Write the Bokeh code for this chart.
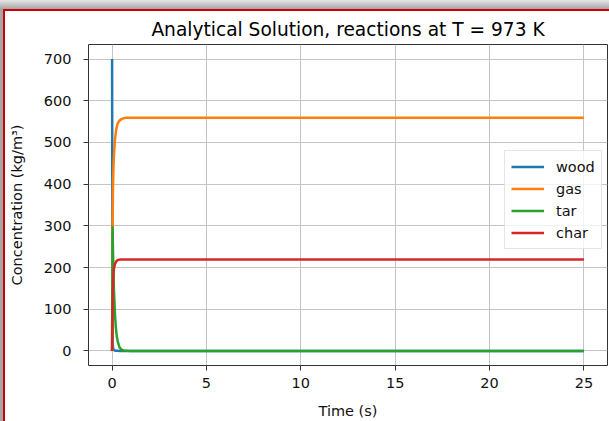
from bokeh.plotting import figure
from bokeh.models import Range1d, FixedTicker, Legend, LegendItem
from bokeh.layouts import column
from bokeh.embed import file_html
from bokeh.resources import INLINE

# ---- data ----
time = [0, 0.025, 0.05, 0.075, 0.1, 0.15, 0.2, 0.25, 0.3, 0.4, 0.5, 0.6, 0.7, 0.8, 1.0, 1.5, 25]
wood = [700, 30, 8, 4, 2, 1, 0.5, 0.2, 0.1, 0, 0, 0, 0, 0, 0, 0, 0]
gas = [0, 296, 400, 445, 470, 505, 525, 538, 546, 553, 556, 558, 559, 559, 559, 559, 559]
tar = [0, 296, 235, 185, 145, 90, 55, 35, 22, 8, 3, 1, 0.5, 0.2, 0, 0, 0]
char = [0, 110, 160, 185, 198, 208, 213, 216, 218, 219, 219, 219, 219, 219, 219, 219, 219]

series_names = ["wood", "gas", "tar", "char"]
series_values = [wood, gas, tar, char]
colors = ["#1f77b4", "#ff7f0e", "#2ca02c", "#d62728"]

x_ticks = [0, 5, 10, 15, 20, 25]
y_ticks = [0, 100, 200, 300, 400, 500, 600, 700]

FONT = "DejaVu Sans"

p = figure(width=604, height=410, output_backend="svg", toolbar_location=None,
           x_range=Range1d(-1.25, 26.25), y_range=Range1d(-35, 735),
           min_border_left=83, min_border_right=2, min_border_top=32, min_border_bottom=55,
           title="Analytical Solution, reactions at T = 973 K")

p.title.align = "center"
p.title.text_font = FONT
p.title.text_font_size = "18.6px"
p.title.text_font_style = "normal"
p.title.text_color = "#000000"
p.title.offset = 0

p.background_fill_color = "white"
p.border_fill_color = "white"
p.outline_line_color = "#333333"
p.outline_line_width = 1

for ax in (p.xaxis, p.yaxis):
    ax.axis_line_color = None
    ax.major_tick_out = 5
    ax.major_tick_in = 0
    ax.major_tick_line_color = "#333333"
    ax.minor_tick_line_color = None
    ax.major_label_text_font = FONT
    ax.major_label_text_font_size = "14.5px"
    ax.major_label_text_color = "#111111"
    ax.axis_label_text_font = FONT
    ax.axis_label_text_font_size = "14.5px"
    ax.axis_label_text_font_style = "normal"
    ax.axis_label_text_color = "#111111"

p.xaxis.ticker = FixedTicker(ticks=x_ticks)
p.yaxis.ticker = FixedTicker(ticks=y_ticks)
p.xaxis.axis_label = "Time (s)"
p.yaxis.axis_label = "Concentration (kg/m³)"
p.xaxis.major_label_standoff = 7
p.yaxis.major_label_standoff = 12
p.xaxis.axis_label_standoff = 12
p.yaxis.axis_label_standoff = 16

p.grid.grid_line_color = "#c4c4c4"
p.grid.grid_line_width = 1

items = []
for name, vals, c in zip(series_names, series_values, colors):
    r = p.line(time, vals, line_color=c, line_width=2.5, line_join="round")
    items.append(LegendItem(label=name, renderers=[r]))

legend = Legend(items=items, location=(416, 116))
legend.label_text_font = FONT
legend.label_text_font_size = "14.5px"
legend.label_text_color = "#111111"
legend.glyph_width = 33
legend.glyph_height = 19
legend.label_height = 19
legend.spacing = 3
legend.padding = 6
legend.margin = 0
legend.label_standoff = 12
legend.border_line_color = "#cccccc"
legend.border_line_width = 1
legend.background_fill_color = "white"
legend.background_fill_alpha = 0.8
p.add_layout(legend)

inner = column(p, styles={"border-top": "2px solid #cc0000", "border-left": "2px solid #cc0000",
                          "background": "white"})
outer = column(inner, styles={"background": "linear-gradient(to bottom, #e6e6e6 0px, #a6a6a6 9px)",
                              "padding": "9px 0px 0px 3px"})

open("out.html", "w").write(file_html(outer, INLINE))
